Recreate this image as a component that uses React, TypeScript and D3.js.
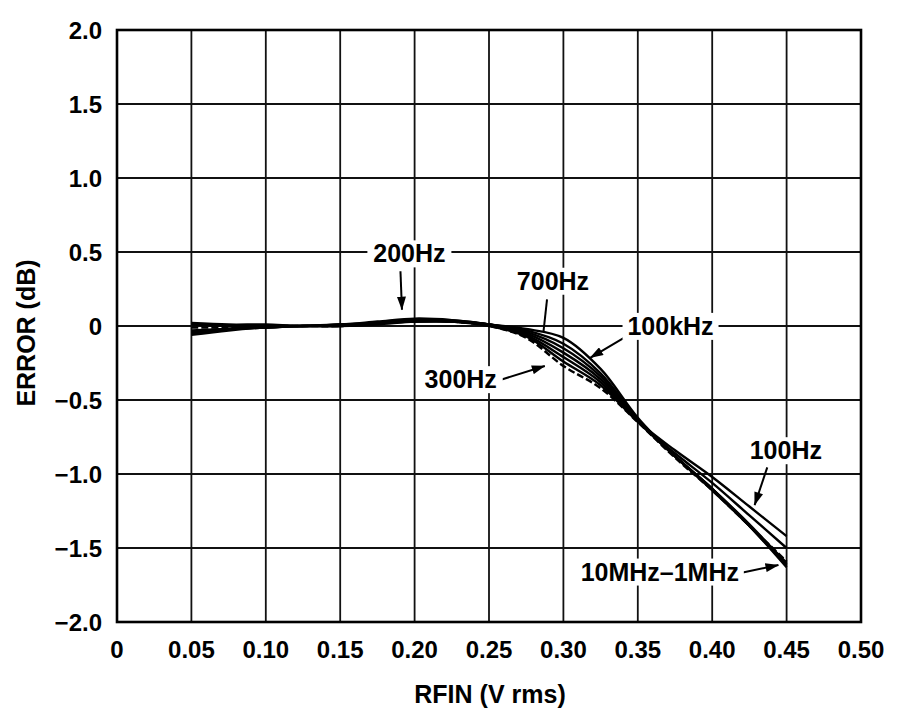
import React from "react";
import * as d3 from "d3";

const xTicks = [0, 0.05, 0.1, 0.15, 0.2, 0.25, 0.3, 0.35, 0.4, 0.45, 0.5];
const xTickLabels = ["0", "0.05", "0.10", "0.15", "0.20", "0.25", "0.30", "0.35", "0.40", "0.45", "0.50"];
const yTicks = [2.0, 1.5, 1.0, 0.5, 0, -0.5, -1.0, -1.5, -2.0];
const yTickLabels = ["2.0", "1.5", "1.0", "0.5", "0", "\u22120.5", "\u22121.0", "\u22121.5", "\u22122.0"];

const rfin = [0.05, 0.075, 0.1, 0.125, 0.15, 0.175, 0.2, 0.225, 0.25, 0.275, 0.3, 0.325, 0.35, 0.375, 0.4, 0.425, 0.45];

const err700Hz = [-0.05, -0.02, 0.0, 0.0, 0.01, 0.02, 0.03, 0.03, 0.01, -0.02, -0.08, -0.29, -0.62, -0.88, -1.11, -1.35, -1.6];
const err100kHz = [-0.04, -0.02, -0.01, 0.0, 0.0, 0.02, 0.03, 0.03, 0.01, -0.03, -0.12, -0.32, -0.63, -0.88, -1.1, -1.35, -1.62];
const err1MHz = [-0.03, -0.02, -0.01, 0.0, 0.0, 0.01, 0.03, 0.03, 0.01, -0.04, -0.15, -0.34, -0.64, -0.88, -1.1, -1.35, -1.63];
const err10MHz = [-0.06, -0.03, -0.01, 0.0, 0.0, 0.02, 0.04, 0.04, 0.01, -0.05, -0.18, -0.36, -0.645, -0.88, -1.1, -1.34, -1.61];
const err200Hz = [0.01, 0.0, 0.0, 0.0, 0.01, 0.03, 0.05, 0.04, 0.01, -0.06, -0.21, -0.38, -0.645, -0.86, -1.06, -1.28, -1.5];
const err100Hz = [0.02, 0.01, 0.01, 0.0, 0.01, 0.02, 0.04, 0.03, 0.0, -0.07, -0.24, -0.4, -0.645, -0.84, -1.02, -1.22, -1.42];
const err300Hz = [-0.01, -0.01, 0.0, 0.0, 0.0, 0.02, 0.04, 0.03, 0.0, -0.08, -0.27, -0.42, -0.65, -0.89, -1.11, -1.35, -1.59];

const seriesNames = ["700Hz", "100kHz", "1MHz", "10MHz", "200Hz", "100Hz", "300Hz"];
const seriesValues = [err700Hz, err100kHz, err1MHz, err10MHz, err200Hz, err100Hz, err300Hz];
const seriesDashed = [false, false, false, false, false, false, true];

const annLabels = ["200Hz", "700Hz", "100kHz", "300Hz", "100Hz", "10MHz\u20131MHz"];
const annText = [
  [0.1965, 0.43],
  [0.293, 0.245],
  [0.372, -0.06],
  [0.231, -0.42],
  [0.4495, -0.9],
  [0.3648, -1.72],
];
const annFrom = [
  [0.1905, 0.37],
  [0.289, 0.18],
  [0.3415, -0.075],
  [0.2575, -0.365],
  [0.437, -0.955],
  [0.4206, -1.665],
];
const annTo = [
  [0.1915, 0.11],
  [0.2866, -0.04],
  [0.318, -0.215],
  [0.2875, -0.27],
  [0.4285, -1.21],
  [0.4445, -1.615],
];
const annArrow = [true, false, true, true, true, true];
const annWidth = [84, 84, 96, 84, 84, 168];

const W = 900;
const H = 728;
const x = d3.scaleLinear().domain([0, 0.5]).range([117, 861]);
const y = d3.scaleLinear().domain([-2, 2]).range([622, 30]);

const line = d3
  .line<[number, number]>()
  .x((d) => x(d[0]))
  .y((d) => y(d[1]))
  .curve(d3.curveCatmullRom.alpha(0.5));

const font = "'Liberation Sans', Arial, Helvetica, sans-serif";

export default function App() {
  return (
    <svg width={W} height={H} style={{ position: "absolute", left: 0, top: 0, background: "#fff" }}>
      <defs>
        <marker id="ah2" viewBox="0 0 12 8" refX="11.5" refY="4" markerWidth="14" markerHeight="9" orient="auto" markerUnits="userSpaceOnUse">
          <path d="M0,0 L12,4 L0,8 z" fill="#000" />
        </marker>
        <clipPath id="plot">
          <rect x={117} y={30} width={744} height={592} />
        </clipPath>
      </defs>
      <rect x={0} y={0} width={W} height={H} fill="#fff" />
      {xTicks.map((t, i) => (
        <line key={"gx" + i} x1={x(t)} x2={x(t)} y1={y(2)} y2={y(-2)} stroke="#111" strokeWidth={1.8} />
      ))}
      {yTicks.map((t, i) => (
        <line key={"gy" + i} x1={x(0)} x2={x(0.5)} y1={y(t)} y2={y(t)} stroke="#111" strokeWidth={1.8} />
      ))}
      <rect x={x(0)} y={y(2)} width={x(0.5) - x(0)} height={y(-2) - y(2)} fill="none" stroke="#000" strokeWidth={2.6} />
      <g clipPath="url(#plot)">
        {seriesValues.map((vals, i) => (
          <path
            key={seriesNames[i]}
            d={line(rfin.map((r, j) => [r, vals[j]] as [number, number])) || ""}
            fill="none"
            stroke="#000"
            strokeWidth={2.4}
            strokeDasharray={seriesDashed[i] ? "7,3" : undefined}
          />
        ))}
      </g>
      {annLabels.map((lab, i) => (
        <g key={"ann" + i}>
          <line
            x1={x(annFrom[i][0])}
            y1={y(annFrom[i][1])}
            x2={x(annTo[i][0])}
            y2={y(annTo[i][1])}
            stroke="#000"
            strokeWidth={2}
            markerEnd={annArrow[i] ? "url(#ah2)" : undefined}
          />
          <rect
            x={x(annText[i][0]) - annWidth[i] / 2}
            y={y(annText[i][1]) - 22}
            width={annWidth[i]}
            height={27}
            fill="#fff"
          />
          <text
            x={x(annText[i][0])}
            y={y(annText[i][1])}
            textAnchor="middle"
            fontFamily={font}
            fontWeight="bold"
            fontSize={25}
            fill="#000"
          >
            {lab}
          </text>
        </g>
      ))}
      {xTicks.map((t, i) => (
        <text key={"xl" + i} x={x(t)} y={658} textAnchor="middle" fontFamily={font} fontWeight="bold" fontSize={24} fill="#000">
          {xTickLabels[i]}
        </text>
      ))}
      {yTicks.map((t, i) => (
        <text key={"yl" + i} x={102} y={y(t) + 8.5} textAnchor="end" fontFamily={font} fontWeight="bold" fontSize={24} fill="#000">
          {yTickLabels[i]}
        </text>
      ))}
      <text x={490} y={703} textAnchor="middle" fontFamily={font} fontWeight="bold" fontSize={25} fill="#000">
        RFIN (V rms)
      </text>
      <text
        transform={`translate(35,${333}) rotate(-90)`}
        textAnchor="middle"
        fontFamily={font}
        fontWeight="bold"
        fontSize={25}
        fill="#000"
      >
        ERROR (dB)
      </text>
    </svg>
  );
}
